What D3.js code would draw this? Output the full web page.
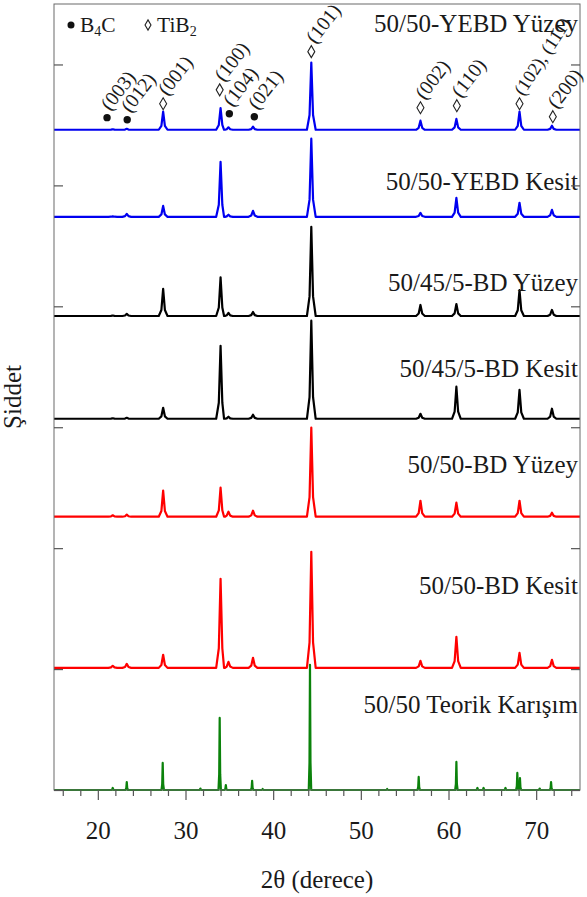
<!DOCTYPE html>
<html>
<head>
<meta charset="utf-8">
<script src="https://cdn.jsdelivr.net/npm/d3@7"></script>
<style>
  html, body { margin: 0; padding: 0; background: #fff; }
  svg text { font-family: "Liberation Serif", "Times New Roman", serif; fill: #1a1a1a; }
</style>
</head>
<body>
<svg id="chart" width="587" height="897"></svg>
<script>
// --- data ---------------------------------------------------------------

// 2θ of the reflections in the measured patterns
const peakAngles = [21.7, 23.3, 27.45, 34.0, 34.9, 37.7, 44.35, 56.8, 60.9, 68.1, 71.8];

// peak heights (a.u.) above each pattern's own baseline, same order as peakAngles
const yebdYuzey  = [0.4, 0.8, 15.0, 18.0, 2.0, 2.5, 55.5,  7.5,  9.0, 15.0, 3.3];
const yebdKesit  = [0.4, 2.5,  9.0, 45.5, 1.7, 5.0, 64.6,  3.3, 15.7, 11.6, 5.8];
const bd455Yuzey = [0.4, 1.7, 22.5, 32.0, 2.5, 3.3, 73.7,  9.1,  9.9, 21.5, 5.0];
const bd455Kesit = [0.4, 0.8,  9.1, 60.4, 1.7, 3.3, 81.1,  4.1, 26.5, 24.0, 8.3];
const bdYuzey    = [1.2, 1.7, 21.5, 24.0, 4.1, 5.0, 73.7, 13.2, 11.6, 13.2, 3.3];
const bdKesit    = [1.7, 3.3, 10.8, 73.7, 5.0, 8.3, 96.0,  5.8, 25.7, 12.4, 6.6];

// theoretical 50/50 mixture (stick-like pattern)
const theoryAngles  = [21.7, 23.3, 27.4, 31.7, 33.9, 34.6, 37.6, 38.8, 44.2, 53.0, 56.6, 60.9, 63.3, 64.0, 66.5, 67.85, 68.15, 70.4, 71.7];
const theoryHeights = [1.7,  6.6, 22.4,  1.2, 59.6,  4.1,  7.5,  0.8, 103.5, 0.8, 10.8, 23.2,  1.7,  1.7,  1.7, 14.1,  9.9,  1.2,  6.6];

const seriesNames = ["50/50-YEBD Yüzey", "50/50-YEBD Kesit", "50/45/5-BD Yüzey", "50/45/5-BD Kesit",
                     "50/50-BD Yüzey", "50/50-BD Kesit", "50/50 Teorik Karışım"];
const seriesGroups = ["YEBD", "YEBD", "BD455", "BD455", "BD", "BD", "Teorik"];
// vertical stacking offset of each pattern (a.u.)
const seriesOffsets = [546, 474, 392, 307, 226, 101, 0];

// phase markers on the top pattern: 2θ, height above its baseline, phase, hkl
const noteAngles = [21.05, 23.35, 27.45, 33.9, 35.0, 37.85, 44.35, 56.8, 60.95, 68.1, 71.9];
const noteLevels = [10, 8.3, 21.5, 33, 13.2, 10.8, 64.6, 18.2, 19.9, 21.5, 10.8];
const notePhases = ["B4C", "B4C", "TiB2", "TiB2", "B4C", "B4C", "TiB2", "TiB2", "TiB2", "TiB2", "TiB2"];
const noteLabels = ["(003)", "(012)", "(001)", "(100)", "(104)", "(021)", "(101)", "(002)", "(110)", "(102), (111)", "(200)"];

const xTicks = [20, 30, 40, 50, 60, 70];
const yTicks = [0, 100, 200, 300, 400, 500, 600];

// --- chart -------------------------------------------------------------

const svg = d3.select("#chart");
const margin = { top: 4, right: 7, bottom: 107, left: 54 };
const width = 587 - margin.left - margin.right;
const height = 897 - margin.top - margin.bottom;

const x = d3.scaleLinear().domain([15, 75]).range([0, width]);
const y = d3.scaleLinear().domain([0, 650]).range([height, 0]);
const color = d3.scaleOrdinal()
  .domain(["YEBD", "BD455", "BD", "Teorik"])
  .range(["#0000f0", "#000000", "#ff0000", "#0b820b"]);

const g = svg.append("g").attr("transform", `translate(${margin.left},${margin.top})`);

// turn a peak list into a line: flat baseline with narrow peaks
function profile(angles, heights, w) {
  const pts = [[15, 0], [75, 0]];
  angles.forEach((a, i) => {
    const h = heights[i];
    pts.push([a - w, 0], [a - w * 0.4, h * 0.22], [a, h], [a + w * 0.4, h * 0.22], [a + w, 0]);
  });
  return pts.sort((p, q) => p[0] - q[0]);
}

const measured = [yebdYuzey, yebdKesit, bd455Yuzey, bd455Kesit, bdYuzey, bdKesit];
const series = seriesNames.map((name, i) => ({
  name,
  group: seriesGroups[i],
  offset: seriesOffsets[i],
  points: i < 6 ? profile(peakAngles, measured[i], 0.5) : profile(theoryAngles, theoryHeights, 0.14)
}));

const line = d3.line()
  .x(d => x(d[0]))
  .y(d => y(d[1]));

g.selectAll(".trace")
  .data(series)
  .join("path")
  .attr("class", "trace")
  .attr("fill", "none")
  .attr("stroke", d => color(d.group))
  .attr("stroke-width", 2.2)
  .attr("stroke-linejoin", "round")
  .attr("d", d => line(d.points.map(p => [p[0], p[1] + d.offset])));

// series names, right aligned inside the frame
const labelY = [32, 190, 291, 377, 473, 594, 713];
g.selectAll(".slabel")
  .data(series)
  .join("text")
  .attr("class", "slabel")
  .attr("x", width - 2)
  .attr("y", (d, i) => labelY[i] - margin.top)
  .attr("text-anchor", "end")
  .attr("font-size", 25)
  .text(d => d.name);

// frame and axes
g.append("rect")
  .attr("width", width).attr("height", height)
  .attr("fill", "none").attr("stroke", "#6a6a6a").attr("stroke-width", 1);

const styleAxis = sel => {
  sel.select(".domain").remove();
  sel.selectAll(".tick line").attr("stroke", "#555").attr("stroke-width", 1.2);
};

g.append("g")
  .attr("transform", `translate(0,${height})`)
  .call(d3.axisBottom(x).tickValues(d3.range(16, 75, 2).filter(v => v % 10 !== 0)).tickSize(6).tickFormat(""))
  .call(styleAxis);

g.append("g")
  .attr("transform", `translate(0,${height})`)
  .call(d3.axisBottom(x).tickValues(xTicks).tickSize(10).tickPadding(21))
  .call(styleAxis)
  .call(a => a.selectAll("text")
    .attr("font-family", "Liberation Serif, serif")
    .attr("font-size", 25)
    .attr("fill", "#1a1a1a"));

g.append("g")
  .call(d3.axisLeft(y).tickValues(yTicks).tickSize(-9).tickFormat(""))
  .call(styleAxis);

g.append("g")
  .attr("transform", `translate(${width},0)`)
  .call(d3.axisRight(y).tickValues(yTicks).tickSize(-9).tickFormat(""))
  .call(styleAxis);

g.append("text")
  .attr("x", width / 2)
  .attr("y", 888 - margin.top)
  .attr("text-anchor", "middle")
  .attr("font-size", 25)
  .text("2θ (derece)");

svg.append("text")
  .attr("transform", `translate(21,${margin.top + height / 2}) rotate(-90)`)
  .attr("text-anchor", "middle")
  .attr("font-size", 25)
  .text("Şiddet");

// phase markers
const diamond = (s) => `M0,${-6 * s}L${3.5 * s},0L0,${6 * s}L${-3.5 * s},0Z`;

function drawMarker(sel, phase, s) {
  if (phase === "B4C") {
    sel.append("circle").attr("r", 3.7 * s).attr("fill", "#111");
  } else {
    sel.append("path").attr("d", diamond(s))
      .attr("fill", "#fff").attr("stroke", "#222").attr("stroke-width", 1.1);
  }
}

const topOffset = seriesOffsets[0];
const notes = g.selectAll(".note")
  .data(noteAngles.map((a, i) => ({ a, level: noteLevels[i], phase: notePhases[i], label: noteLabels[i] })))
  .join("g")
  .attr("class", "note")
  .attr("transform", d => `translate(${x(d.a)},${y(topOffset + d.level)})`);

notes.each(function (d) { drawMarker(d3.select(this), d.phase, 1); });

// long label near the right edge is tilted a bit steeper so it stays inside the frame
notes.append("text")
  .attr("transform", d => `translate(${d.phase === "B4C" ? 3 : 4},${d.phase === "B4C" ? -6 : -7}) rotate(${d.label.length > 6 ? -57 : -52})`)
  .attr("font-size", d => d.label.length > 6 ? 18.5 : 20)
  .text(d => d.label);

// legend: marker, formula with subscript
const legendPhases = ["B4C", "TiB2"];
const legendParts = [["B", "4", "C"], ["TiB", "2", ""]];
const leg = g.selectAll(".leg")
  .data(legendPhases)
  .join("g")
  .attr("class", "leg")
  .attr("transform", (d, i) => `translate(${17 + i * 77},${21})`);

leg.each(function (d) { drawMarker(d3.select(this), d, d === "B4C" ? 0.95 : 0.85); });

const legText = leg.append("text")
  .attr("x", 9)
  .attr("y", 6.5)
  .attr("font-size", 21.5);
legText.append("tspan").text((d, i) => legendParts[i][0]);
legText.append("tspan").attr("font-size", 14).attr("dy", 4).text((d, i) => legendParts[i][1]);
legText.append("tspan").attr("dy", -4).text((d, i) => legendParts[i][2]);
</script>
</body>
</html>
